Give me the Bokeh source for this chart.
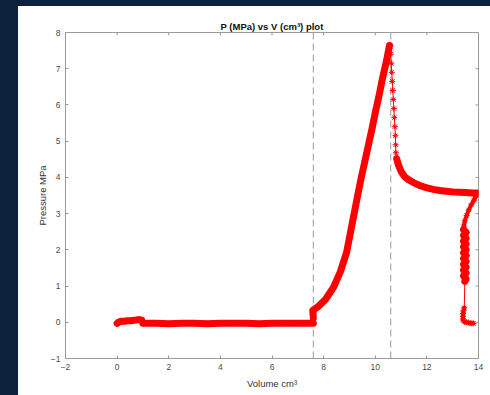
from bokeh.plotting import figure
from bokeh.models import Range1d, FixedTicker, Span, Spacer
from bokeh.layouts import row, column
from bokeh.embed import file_html
from bokeh.resources import INLINE

# --- measured cycle, volume in cm^3 and pressure in MPa ---
suction_v = [0.0, 0.05, 0.12, 0.2, 0.3, 0.4, 0.5, 0.6, 0.7, 0.8, 0.88, 0.95]
suction_p = [-0.03, 0.0, 0.02, 0.03, 0.03, 0.04, 0.04, 0.05, 0.06, 0.07, 0.07, 0.06]

hold_v = [1.0, 1.5, 2.0, 2.5, 3.0, 3.5, 4.0, 4.5, 5.0, 5.5, 6.0, 6.5, 7.0, 7.3, 7.6]
hold_p = [-0.03, -0.03, -0.04, -0.03, -0.03, -0.04, -0.03, -0.03, -0.03, -0.04, -0.03, -0.03, -0.03, -0.03, -0.03]

compression_v = [7.60, 7.58, 7.80, 8.07, 8.38, 8.65, 8.89, 9.04, 9.16, 9.31, 9.46, 9.60,
                 9.74, 9.88, 10.01, 10.15, 10.28, 10.44, 10.55]
compression_p = [0.12, 0.33, 0.44, 0.63, 0.96, 1.40, 1.93, 2.48, 2.92, 3.47, 4.00, 4.45,
                 4.91, 5.36, 5.82, 6.27, 6.73, 7.23, 7.64]

blowdown_v = [10.58, 10.60, 10.62, 10.64, 10.66, 10.68, 10.70, 10.72, 10.74, 10.76, 10.78,
              10.79, 10.80]
blowdown_p = [7.62, 7.40, 7.15, 6.90, 6.65, 6.40, 6.15, 5.90, 5.65, 5.40, 5.15,
              4.90, 4.68]

expansion_v = [10.83, 10.88, 10.95, 11.02, 11.15, 11.3, 11.5, 11.75, 12.0, 12.25,
               12.5, 12.75, 13.0, 13.25, 13.5, 13.75, 13.95]
expansion_p = [4.52, 4.38, 4.25, 4.14, 4.01, 3.93, 3.85, 3.77, 3.71, 3.67,
               3.64, 3.62, 3.60, 3.59, 3.58, 3.57, 3.57]

return_v = [13.90, 13.82, 13.72, 13.62, 13.54, 13.47, 13.43]
return_p = [3.48, 3.37, 3.24, 3.10, 2.95, 2.80, 2.65]

flutter_v = [13.42, 13.52, 13.42, 13.52, 13.42, 13.52, 13.42, 13.52, 13.42, 13.52,
             13.42, 13.52, 13.42, 13.52, 13.42, 13.52, 13.42, 13.52, 13.47]
flutter_p = [2.56, 2.48, 2.40, 2.32, 2.24, 2.16, 2.08, 2.00, 1.92, 1.84,
             1.76, 1.68, 1.60, 1.52, 1.44, 1.36, 1.28, 1.20, 1.13]

settle_v = [13.45, 13.42, 13.40, 13.40, 13.40, 13.42, 13.47, 13.53, 13.60, 13.67, 13.74, 13.80]
settle_p = [0.40, 0.32, 0.24, 0.16, 0.09, 0.04, 0.01, 0.00, -0.01, -0.02, -0.03, -0.03]

# reference volumes marked with dashed lines
marker_volumes = [7.6, 10.6]

x_ticks = [-2, 0, 2, 4, 6, 8, 10, 12, 14]
y_ticks = [-1, 0, 1, 2, 3, 4, 5, 6, 7, 8]
x_lim = (-2, 14)
y_lim = (-1, 8)

NAVY = "#0c213c"
RED = "#ff0000"
AXIS_GREY = "#9a9a9a"
LABEL_GREY = "#4a4a4a"
FONT = "Liberation Sans"

W, H = 472, 389
BL, BR, BT, BB = 47, 12, 26, 37

p = figure(width=W, height=H, output_backend="svg", toolbar_location=None,
           x_range=Range1d(*x_lim), y_range=Range1d(*y_lim),
           min_border_left=BL, min_border_right=BR, min_border_top=BT, min_border_bottom=BB,
           background_fill_color="white", border_fill_color="white",
           outline_line_color=AXIS_GREY)

p.title.text = "P (MPa) vs V (cm\u00b3) plot"
p.title.align = "center"
p.title.text_font = FONT
p.title.text_font_size = "9.5px"
p.title.text_font_style = "bold"
p.title.text_color = "#111111"
p.title.standoff = 2

p.xgrid.visible = False
p.ygrid.visible = False

p.xaxis.ticker = FixedTicker(ticks=x_ticks)
p.yaxis.ticker = FixedTicker(ticks=y_ticks)

for ax in p.axis:
    ax.axis_line_color = AXIS_GREY
    ax.major_tick_line_color = AXIS_GREY
    ax.major_tick_in = 3
    ax.major_tick_out = 0
    ax.minor_tick_line_color = None
    ax.major_label_text_font = FONT
    ax.major_label_text_font_size = "8.5px"
    ax.major_label_text_color = LABEL_GREY
    ax.major_label_standoff = 5
    ax.axis_label_text_font = FONT
    ax.axis_label_text_font_size = "9.5px"
    ax.axis_label_text_font_style = "normal"
    ax.axis_label_text_color = "#333333"

p.xaxis.axis_label = "Volume cm\u00b3"
p.yaxis.axis_label = "Pressure MPa"
p.xaxis.axis_label_standoff = 5
p.yaxis.axis_label_standoff = 0

# inward ticks on the top and right edges of the box (3 px long)
tick_dx = 3 * (x_lim[1] - x_lim[0]) / (W - BL - BR)
tick_dy = 3 * (y_lim[1] - y_lim[0]) / (H - BT - BB)
p.segment(x0=x_ticks, y0=[y_lim[1]] * len(x_ticks), x1=x_ticks,
          y1=[y_lim[1] - tick_dy] * len(x_ticks), line_color=AXIS_GREY, line_width=1)
p.segment(x0=[x_lim[1]] * len(y_ticks), y0=y_ticks, x1=[x_lim[1] - tick_dx] * len(y_ticks),
          y1=y_ticks, line_color=AXIS_GREY, line_width=1)

for v in marker_volumes:
    p.add_layout(Span(location=v, dimension="height", line_color="#9a9a9a",
                      line_width=1, line_dash="7 4", level="underlay"))

# thin trace through the whole cycle
all_v = suction_v + hold_v + compression_v + blowdown_v + expansion_v + return_v + flutter_v + settle_v
all_p = suction_p + hold_p + compression_p + blowdown_p + expansion_p + return_p + flutter_p + settle_p
p.line(all_v, all_p, line_color=RED, line_width=1)

# densely sampled stretches appear as a solid band
for sv, sp in ((suction_v, suction_p), (hold_v, hold_p),
               (compression_v, compression_p), (expansion_v, expansion_p),
               (flutter_v, flutter_p)):
    p.line(sv, sp, line_color=RED, line_width=7, line_join="round", line_cap="round")
for sv, sp in ((return_v, return_p), (settle_v, settle_p)):
    p.line(sv, sp, line_color=RED, line_width=4, line_join="round", line_cap="round")

p.scatter(all_v, all_p, marker="asterisk", size=6, line_color=RED, line_width=1)

page = row(Spacer(width=18, height=395, styles={"background-color": NAVY}),
           column(Spacer(width=472, height=6, styles={"background-color": NAVY}), p))

open("out.html", "w").write(file_html(page, INLINE))
